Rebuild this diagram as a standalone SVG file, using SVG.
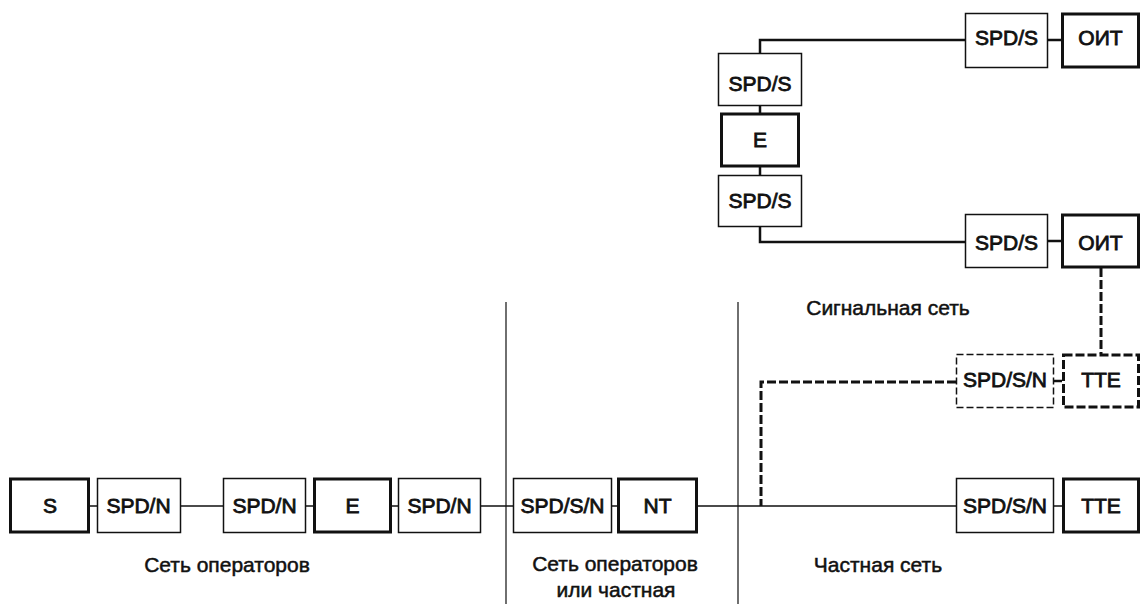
<svg xmlns="http://www.w3.org/2000/svg" width="1141" height="604" viewBox="0 0 1141 604">
<style>
.thin{fill:#fff;stroke:#111;stroke-width:1.5}
.thick{fill:#fff;stroke:#111;stroke-width:3}
.dthin{fill:#fff;stroke:#111;stroke-width:1.5;stroke-dasharray:7 3}
.dthick{fill:#fff;stroke:#111;stroke-width:3;stroke-dasharray:9 3}
.lbl{font-family:"Liberation Sans",Arial,sans-serif;font-size:21px;fill:#111;stroke:#111;stroke-width:0.8;text-anchor:middle}
.cap{font-family:"Liberation Sans",Arial,sans-serif;font-size:21px;fill:#111;stroke:#111;stroke-width:0.5;text-anchor:middle}
.c1{fill:none;stroke:#111;stroke-width:1.5}
.c2{fill:none;stroke:#111;stroke-width:2.5}
.cd{fill:none;stroke:#111;stroke-width:3;stroke-dasharray:9 3}
.dv{fill:none;stroke:#111;stroke-width:1.2}
</style>
<g id="connectors">
<path class="c1" d="M89,506H97M181,506H223M306,506H313M391,506H398M481,506H513M612,506H617M697,506H956M1054,506H1062"/>
<path class="c2" d="M965,40H760V53M1048,40H1061M760,106V113M760,167V175M760,227V242H965M1048,241H1061"/>
<path class="cd" d="M1101,268V354M956,382H761V506"/>
<path class="c2" d="M1054,381H1062"/>
<path class="dv" d="M506,302V604M738,302V604"/>
</g>
<g id="n-s"><rect class="thick" x="10.5" y="479" width="78" height="53"/><text class="lbl" x="50" y="513">S</text></g>
<g id="n-spdn1"><rect class="thin" x="97.5" y="478.5" width="83" height="54"/><text class="lbl" x="138.5" y="513">SPD/N</text></g>
<g id="n-spdn2"><rect class="thin" x="223.5" y="478.5" width="82" height="54"/><text class="lbl" x="264.5" y="513">SPD/N</text></g>
<g id="n-e1"><rect class="thick" x="314.5" y="479" width="76" height="53"/><text class="lbl" x="352.5" y="513">E</text></g>
<g id="n-spdn3"><rect class="thin" x="398.5" y="478.5" width="82" height="54"/><text class="lbl" x="439.5" y="513">SPD/N</text></g>
<g id="n-spdsn1"><rect class="thin" x="513.5" y="478.5" width="98" height="54"/><text class="lbl" x="562.5" y="513">SPD/S/N</text></g>
<g id="n-nt"><rect class="thick" x="618.5" y="479" width="78" height="53"/><text class="lbl" x="657.5" y="513">NT</text></g>
<g id="n-spdsn2"><rect class="thin" x="956.5" y="478.5" width="97" height="54"/><text class="lbl" x="1005" y="513">SPD/S/N</text></g>
<g id="n-tte1"><rect class="thick" x="1063.5" y="479" width="75" height="53"/><text class="lbl" x="1101" y="513">TTE</text></g>
<g id="n-spds-top"><rect class="thin" x="965.5" y="13.5" width="82" height="54"/><text class="lbl" x="1006.5" y="45">SPD/S</text></g>
<g id="n-oit-top"><rect class="thick" x="1062.5" y="14" width="76" height="53"/><text class="lbl" x="1100.5" y="45">ОИТ</text></g>
<g id="n-spds-l1"><rect class="thin" x="718.5" y="53.5" width="83" height="52"/><text class="lbl" x="760" y="91">SPD/S</text></g>
<g id="n-e2"><rect class="thick" x="721.5" y="114" width="77" height="52"/><text class="lbl" x="760" y="147">E</text></g>
<g id="n-spds-l2"><rect class="thin" x="718.5" y="175.5" width="83" height="51"/><text class="lbl" x="760" y="208">SPD/S</text></g>
<g id="n-spds-mid"><rect class="thin" x="965.5" y="214.5" width="82" height="53"/><text class="lbl" x="1006.5" y="250">SPD/S</text></g>
<g id="n-oit-mid"><rect class="thick" x="1062.5" y="215" width="76" height="52"/><text class="lbl" x="1100.5" y="250">ОИТ</text></g>
<g id="n-spdsn-d"><rect class="dthin" x="956.5" y="354.5" width="97" height="53"/><text class="lbl" x="1005" y="387">SPD/S/N</text></g>
<g id="n-tte-d"><rect class="dthick" x="1063.5" y="355" width="75" height="52"/><text class="lbl" x="1101" y="387">TTE</text></g>
<g id="labels">
<text class="cap" x="227" y="572">Сеть операторов</text>
<text class="cap" x="615" y="571">Сеть операторов</text>
<text class="cap" x="616" y="597">или частная</text>
<text class="cap" x="878" y="572">Частная сеть</text>
<text class="cap" x="888" y="315">Сигнальная сеть</text>
</g>
</svg>
